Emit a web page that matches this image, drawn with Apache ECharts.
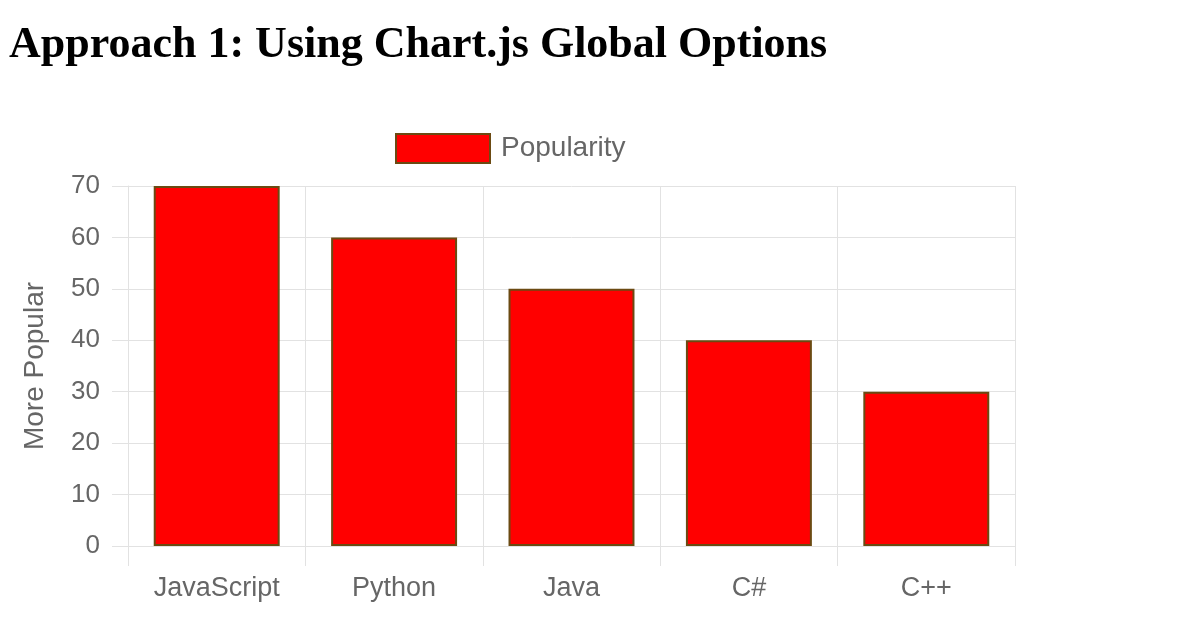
<!DOCTYPE html>
<html>
<head>
<meta charset="utf-8">
<script src="https://cdn.jsdelivr.net/npm/echarts@6/dist/echarts.min.js"></script>
<style>
  html, body { margin: 0; padding: 0; background: #fff; }
  #main { width: 1196px; height: 628px; }
</style>
</head>
<body>
<div id="main"></div>
<script>
var categories = ['JavaScript', 'Python', 'Java', 'C#', 'C++'];
var popularity = [70, 60, 50, 40, 30];
var yTicks = { min: 0, max: 70, interval: 10 };

var myChart = echarts.init(document.getElementById('main'));

var gridColor = '#e2e2e2';
var textColor = '#666';

var option = {
  backgroundColor: '#fff',
  textStyle: { fontFamily: 'Liberation Sans, Arial, sans-serif' },
  title: {
    text: 'Approach 1: Using Chart.js Global Options',
    left: 4,
    top: 19,
    textStyle: {
      fontFamily: 'Liberation Serif, Times New Roman, serif',
      fontWeight: 'bold',
      fontSize: 44,
      color: '#000'
    }
  },
  legend: {
    left: 390,
    top: 128,
    icon: 'rect',
    itemWidth: 94,
    itemHeight: 29,
    itemGap: 10,
    textStyle: { fontSize: 28, color: textColor, padding: [0, 0, 0, 6] },
    data: ['Popularity']
  },
  grid: { left: 128, right: 181, top: 186, bottom: 82 },
  xAxis: {
    type: 'category',
    data: categories,
    boundaryGap: true,
    axisLine: { lineStyle: { color: gridColor, width: 1 } },
    axisTick: { show: true, length: 20, lineStyle: { color: gridColor } },
    splitLine: { show: true, lineStyle: { color: gridColor } },
    axisLabel: { fontSize: 27, color: textColor, margin: 29 }
  },
  yAxis: {
    type: 'value',
    min: yTicks.min,
    max: yTicks.max,
    interval: yTicks.interval,
    name: 'More Popular',
    nameLocation: 'middle',
    nameGap: 79,
    nameTextStyle: { fontSize: 28, color: textColor },
    axisLine: { show: true, lineStyle: { color: gridColor } },
    axisTick: { show: true, length: 16, lineStyle: { color: gridColor } },
    splitLine: { show: true, lineStyle: { color: gridColor } },
    axisLabel: { fontSize: 26, color: textColor, margin: 28 }
  },
  series: [
    {
      name: 'Popularity',
      type: 'bar',
      data: popularity,
      barWidth: '71%',
      itemStyle: {
        color: '#ff0000',
        borderColor: '#6b4a12',
        borderWidth: 2
      }
    }
  ]
};

myChart.setOption(option);
</script>
</body>
</html>
